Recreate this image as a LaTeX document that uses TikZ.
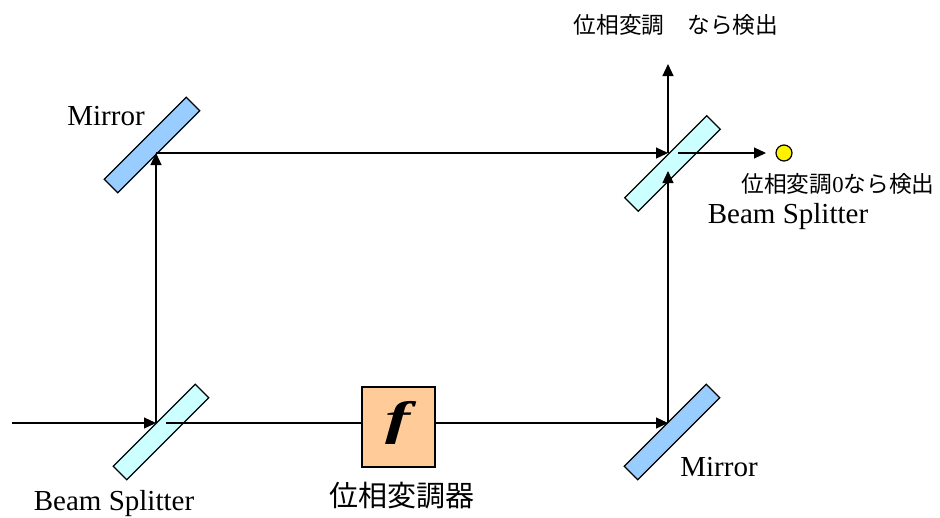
\documentclass[tikz,border=0pt]{standalone}
\usepackage{fontspec}
\setmainfont{Liberation Serif}
\newfontfamily\jpfont{Noto Sans CJK JP}
\usetikzlibrary{arrows, arrows.meta}
\definecolor{mirrorblue}{HTML}{99CCFF}
\definecolor{splitcyan}{HTML}{CCFFFF}
\definecolor{boxorange}{HTML}{FFCC99}
\tikzset{
  plate/.style={rectangle, draw, line width=1.3pt, rotate=45, inner sep=0pt, minimum width=116pt, minimum height=19pt},
  mirror/.style={plate, fill=mirrorblue},
  splitter/.style={plate, fill=splitcyan},
  beam/.style={line width=1.2pt, -{Triangle[length=12pt, width=11pt]}},
  plainbeam/.style={line width=1.2pt},
  latin/.style={inner sep=0pt, font=\fontsize{29}{30}\selectfont},
  jplabel/.style={inner sep=0pt, font=\fontsize{22.7}{24}\selectfont\jpfont}
}

\begin{document}
\begin{tikzpicture}[x=1pt, y=-1pt]
    \useasboundingbox (0,0) rectangle (940,517);

    \node[splitter] (bs1) at (161,432) {};
    \node[splitter] (bs2) at (672.5,163.5) {};
    \node[mirror] (m1) at (152,145) {};
    \node[mirror] (m2) at (672,432) {};
    \node[rectangle, draw, line width=1.3pt, fill=boxorange, inner sep=0pt, minimum width=73pt, minimum height=80pt] (f) at (398.5,427) {};
    \node[inner sep=0pt, xscale=1.6, font=\fontsize{47}{47}\selectfont\bfseries\itshape] (fsym) at (398,423) {f};
    \node[circle, draw, line width=1.2pt, fill=yellow, inner sep=0pt, minimum size=16pt] (det) at (784,153) {};

    \coordinate (in) at (12,423);
    \coordinate (a) at (156,423);
    \coordinate (b) at (156,153);
    \coordinate (c) at (668,153);
    \coordinate (d) at (668,423);
    \coordinate (e) at (668,171);
    \coordinate (g) at (668,64);
    \coordinate (h) at (678,153);
    \coordinate (i) at (766,153);
    \coordinate (j) at (166,423);
    \coordinate (k) at (362,423);
    \coordinate (l) at (435,423);

    \draw[beam] (in) -- (a);
    \draw[beam] (a) -- (b);
    \draw[beam] (b) -- (c);
    \draw[beam] (c) -- (g);
    \draw[beam] (h) -- (i);
    \draw[beam] (d) -- (e);
    \draw[plainbeam] (j) -- (k);
    \draw[beam] (l) -- (d);

    \node[latin] (m1label) at (106,116) {Mirror};
    \node[latin] (m2label) at (719,467) {Mirror};
    \node[latin] (bs1label) at (114,504) {Beam Splitter};
    \node[latin] (bs2label) at (788,217) {Beam Splitter};
    \node[jplabel] (toplabel) at (676,25) {位相変調　なら検出};
    \node[jplabel] (detlabel) at (838,184) {位相変調{\rmfamily 0}なら検出};
    \node[inner sep=0pt, font=\fontsize{29}{30}\selectfont\jpfont] (flabel) at (402,496) {位相変調器};
\end{tikzpicture}
\end{document}
